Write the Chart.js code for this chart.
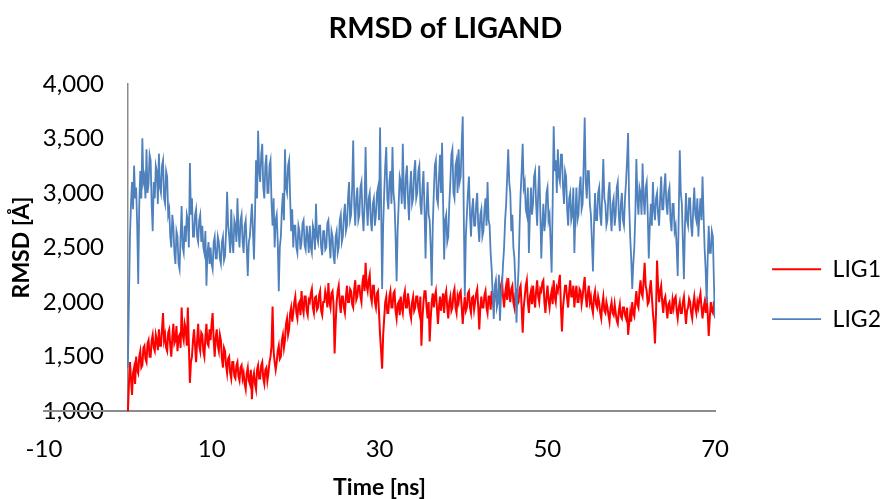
<!DOCTYPE html>
<html>
<head>
<meta charset="utf-8">
<script src="https://cdn.jsdelivr.net/npm/chart.js@4.4.1/dist/chart.umd.min.js"></script>
<style>
  html, body { margin: 0; padding: 0; background: #fff; }
  #wrap { width: 881px; height: 499px; }
</style>
</head>
<body>
<div id="wrap"><canvas id="rmsd"></canvas></div>
<script>
// RMSD per frame (8 frames per ~1 ns)
const lig1 = [
  990, 1250, 1450, 1300, 1150, 1350, 1400, 1250,  1500, 1380, 1350, 1500, 1550, 1400, 1420, 1580,
  1600, 1480, 1450, 1620, 1650, 1500, 1500, 1650,  1700, 1580, 1550, 1700, 1650, 1560, 1750, 1600,
  1600, 1750, 1900, 1650, 1700, 1580, 1550, 1720,  1750, 1600, 1500, 1680, 1800, 1620, 1650, 1780,
  1550, 1680, 1700, 1580, 1950, 1700, 1650, 1800,  1750, 1600, 1950, 1600, 1260, 1450, 1500, 1650,
  1750, 1600, 1450, 1650, 1800, 1600, 1550, 1720,  1700, 1550, 1500, 1680, 1800, 1620, 1600, 1750,
  1650, 1800, 1900, 1650, 1500, 1680, 1750, 1600,  1550, 1700, 1650, 1480, 1400, 1580, 1550, 1420,
  1350, 1480, 1500, 1350, 1300, 1450, 1450, 1320,  1300, 1420, 1450, 1320, 1280, 1400, 1420, 1300,
  1350, 1250, 1200, 1350, 1400, 1280, 1250, 1380,  1110, 1300, 1350, 1250, 1200, 1380, 1420, 1300,
  1300, 1420, 1450, 1300, 1250, 1380, 1400, 1280,  1350, 1450, 1500, 1600, 1960, 1550, 1450, 1380,
  1450, 1550, 1600, 1480, 1500, 1650, 1700, 1580,  1650, 1800, 1850, 1700, 1750, 1900, 1950, 1820,
  1900, 2000, 2050, 1900, 1850, 1980, 2000, 1880,  2100, 1950, 1900, 2050, 2050, 1920, 1880, 2020,
  2000, 2080, 2120, 1950, 1900, 2040, 2050, 1930,  1950, 2060, 2100, 1920, 1880, 2000, 2000, 2100,
  2050, 1950, 2175, 2000, 1950, 2080, 2100, 1980,  1530, 1800, 2000, 2100, 2150, 1980, 1900, 2050,
  2050, 1950, 1900, 2050, 2150, 2000, 2000, 2120,  2100, 1980, 1950, 2120, 2200, 2020, 2050, 2150,
  2150, 2050, 2000, 2180, 2250, 2100, 2360, 2150,  2100, 2200, 2250, 2050, 2000, 2150, 2150, 2000,
  1950, 2080, 2100, 1900, 1700, 1550, 1390, 1700,  1850, 2000, 2050, 1900, 1900, 2050, 2100, 1950,
  1950, 2080, 2100, 1920, 1850, 1980, 2000, 1880,  2050, 1950, 1900, 2050, 2100, 1950, 1950, 2080,
  2000, 1900, 1850, 2000, 2050, 1920, 1950, 2050,  2050, 1950, 1900, 2050, 1600, 1850, 2000, 2100,
  2100, 1950, 1850, 2000, 1640, 1850, 2000, 2080,  1950, 2050, 2100, 1950, 1800, 1950, 2050, 1920,
  2000, 2080, 1900, 2050, 2100, 1950, 1850, 2000,  2050, 1920, 1950, 2080, 2120, 1950, 1900, 2050,
  2000, 2080, 2100, 1950, 1800, 1950, 2050, 1920,  1950, 2080, 2100, 1950, 1900, 2040, 2050, 1930,
  2000, 2080, 2120, 1950, 1750, 1950, 2050, 1950,  1950, 2060, 2100, 1950, 1900, 2050, 2050, 1930,
  2100, 2000, 1950, 2100, 2150, 2000, 2000, 2130,  2050, 2150, 2200, 2050, 1950, 2080, 2150, 2020,
  2220, 2080, 2000, 2120, 2150, 2000, 1950, 2080,  2100, 1980, 2000, 2120, 2150, 1950, 1720, 1950,
  2050, 2150, 2200, 2000, 1900, 2050, 2100, 1980,  2150, 2030, 1950, 2100, 2200, 2050, 2000, 2120,
  2100, 2180, 2200, 2000, 1900, 2050, 2150, 2020,  1950, 2050, 2100, 1980, 2200, 2050, 2000, 2130,
  2100, 2180, 2250, 1950, 1730, 1950, 2050, 2150,  2150, 2030, 1950, 2100, 2200, 2050, 2050, 2150,
  1950, 2080, 2150, 2000, 2000, 2120, 2100, 1980,  2050, 2150, 2230, 2050, 1950, 2080, 2150, 2000,
  2050, 1950, 1900, 2050, 2100, 1980, 1950, 2050,  2000, 1900, 1850, 1980, 2050, 1920, 1900, 2000,
  1950, 1880, 1820, 1950, 2000, 1900, 1880, 1980,  1900, 1830, 1800, 1920, 1980, 1870, 1850, 1950,
  1950, 1880, 1850, 1950, 1700, 1800, 1900, 1820,  2000, 1900, 1870, 2000, 2100, 1980, 1950, 2100,
  2200, 2080, 2050, 2200, 2360, 2150, 2100, 1980,  2000, 2120, 2200, 2050, 1900, 1800, 1620, 1900,
  2380, 2150, 2000, 2100, 2150, 2000, 1900, 2020,  2050, 1950, 1850, 1980, 2000, 1900, 1900, 2020,
  1950, 2030, 2050, 1920, 1850, 1950, 2000, 1900,  1900, 2000, 2050, 1920, 1800, 1920, 1950, 2030,
  2000, 1900, 1850, 1980, 2050, 1950, 1900, 2000,  1950, 2030, 2080, 1950, 1850, 1950, 2000, 1900,
  2050, 1900, 1690, 1850, 2000, 1920, 1900, 2000,  2000
];

const lig2 = [
  1400, 2000, 2600, 2900, 3100, 2850, 3250, 2950,  3050, 2700, 2165, 2900, 3200, 2950, 3500, 3100,
  3150, 2950, 3400, 3000, 3080, 3350, 3300, 2900,  2650, 3100, 2950, 3250, 3200, 2900, 3360, 3050,
  3000, 3250, 3300, 2950, 2900, 3200, 3150, 2800,  2850, 2600, 2500, 2800, 2700, 2450, 2350, 2650,
  2600, 2350, 2300, 2600, 2880, 2500, 2450, 2700,  2550, 2800, 2750, 2500, 3275, 2800, 2950, 2600,
  2600, 2800, 2850, 2600, 2550, 2750, 2800, 2550,  2700, 2500, 2450, 2650, 2150, 2450, 2550, 2350,
  2500, 2350, 2300, 2550, 2600, 2400, 2400, 2600,  2550, 2400, 2350, 2550, 2600, 2380, 2420, 2650,
  3010, 2700, 2600, 2450, 2850, 2550, 2450, 2750,  2700, 2550, 2950, 2650, 2500, 2750, 2800, 2550,
  2450, 2700, 2750, 2500, 2240, 2550, 2600, 2750,  2900, 2650, 2390, 2800, 3300, 2950, 3570, 3200,
  3100, 3350, 3450, 3050, 2950, 3250, 3350, 3000,  3000, 3250, 3300, 2900, 2700, 2950, 2500, 2750,
  2800, 2550, 2100, 2500, 2600, 2850, 3000, 2750,  3400, 3050, 3000, 3250, 3300, 2950, 2650, 2850,
  2500, 2700, 2700, 2500, 2450, 2700, 2650, 2480,  2550, 2720, 2750, 2520, 2480, 2700, 2600, 2450,
  2700, 2500, 2450, 2700, 2650, 2480, 2900, 2600,  2550, 2700, 2700, 2500, 2430, 2650, 2650, 2480,
  2500, 2720, 2750, 2550, 2400, 2650, 2600, 2420,  2350, 2600, 2650, 2450, 2500, 2750, 2800, 2550,
  2600, 2800, 2900, 2650, 2700, 2950, 3100, 2750,  2800, 3050, 3480, 2900, 2700, 2950, 3050, 2750,
  2800, 3050, 3100, 2800, 2650, 2900, 3420, 2900,  2700, 2950, 3000, 2750, 2650, 2900, 2950, 2700,
  2800, 3000, 3050, 2750, 3600, 2900, 2120, 2700,  3000, 3250, 3420, 2950, 2850, 3100, 3200, 2900,
  3420, 3000, 2900, 2600, 2190, 2650, 2900, 3150,  3100, 2900, 3450, 3000, 2850, 3150, 3250, 2950,
  2750, 3050, 3200, 2900, 2950, 3200, 3300, 2950,  3000, 3200, 3250, 2900, 2800, 3050, 3200, 2850,
  2400, 2850, 3100, 2800, 2750, 2500, 2150, 2700,  3000, 3250, 3300, 2950, 2900, 3150, 3350, 3000,
  3460, 2900, 2390, 2750, 2800, 2550, 2600, 2900,  3100, 3350, 3400, 3000, 2950, 3250, 3300, 3000,
  3400, 3100, 3150, 3450, 3700, 2800, 2055, 2600,  2800, 3000, 3150, 2800, 2600, 2850, 2950, 2700,
  2700, 2900, 3000, 2700, 2550, 2800, 2850, 2600,  2650, 2850, 2950, 2700, 3100, 2750, 2700, 2450,
  2300, 2050, 1845, 2150, 2200, 1950, 2000, 2250,  1830, 2050, 2150, 2350, 2500, 2750, 2900, 3150,
  3400, 3100, 3000, 2650, 2800, 2500, 2400, 2150,  1810, 2100, 2300, 2700, 3000, 3200, 3450, 3050,
  3100, 2850, 2800, 3050, 2450, 2800, 3050, 2800,  2900, 3150, 3200, 2900, 2700, 3000, 3250, 2850,
  2400, 2700, 2900, 2650, 2750, 3000, 3050, 2750,  2800, 2550, 2270, 2900, 3610, 3200, 3300, 3000,
  3400, 3150, 3100, 3350, 3350, 3050, 2900, 3200,  3150, 2850, 2700, 2950, 3000, 2750, 2800, 3050,
  2450, 2800, 3050, 2750, 2800, 3050, 3150, 2850,  2900, 3250, 3690, 3100, 2950, 3200, 3200, 2900,
  2800, 2550, 2280, 2700, 3000, 2750, 2750, 3000,  3050, 2800, 2700, 3000, 3310, 2950, 2900, 2700,
  2750, 3000, 3100, 2800, 2650, 2900, 2950, 2700,  2800, 3050, 3100, 2800, 2650, 2900, 3000, 2750,
  2700, 2950, 3100, 3300, 3550, 2900, 2600, 2400,  2120, 2350, 2500, 2800, 3310, 2950, 2800, 3050,
  3000, 2800, 3270, 2950, 2800, 3050, 3100, 2800,  2400, 2700, 2900, 2700, 3100, 2850, 2750, 2950,
  3000, 2800, 2700, 2950, 3150, 2850, 2850, 3050,  3180, 2900, 2800, 3000, 3050, 2750, 2650, 2900,
  2900, 2650, 2700, 2500, 2240, 2800, 3390, 3000,  2900, 2550, 2210, 2700, 3000, 2750, 2700, 2950,
  2950, 2700, 2600, 2850, 3050, 2800, 2750, 2950,  2600, 2800, 2950, 2750, 3150, 2800, 2500, 2300,
  1990, 2400, 2700, 2450, 2450, 2650, 2600, 2200,  1850
];

const frameStep = 0.1232; // ns between frames
const xTicks = [-10, 10, 30, 50, 70];
const yTicks = [1000, 1500, 2000, 2500, 3000, 3500, 4000];

Chart.defaults.font.family = 'Lato';
Chart.defaults.color = '#000';

const toPoints = (arr) => arr.map((v, i) => ({ x: i * frameStep, y: v }));
const setTicks = (list) => (scale) => {
    scale.ticks = list.map((v) => ({ value: v }));
};

const axisGray = '#8c8c8c';

const ctx = document.getElementById("rmsd").getContext("2d");
const rmsdChart = new Chart(ctx, {
    type: "line",
    data: {
        datasets: [
            {
                label: 'LIG1',
                data: toPoints(lig1),
                borderColor: '#ff0000',
                backgroundColor: '#ff0000',
                borderWidth: 2,
                order: 1,
                yAxisID: 'y',
            },
            {
                label: 'LIG2',
                data: toPoints(lig2),
                borderColor: '#4f81bd',
                backgroundColor: '#4f81bd',
                borderWidth: 1.8,
                order: 0,
                yAxisID: 'y',
            },
        ],
    },
    options: {
        responsive: true,
        maintainAspectRatio: false,
        animation: false,
        layout: {
            padding: { left: 0, right: -10, top: 0, bottom: 0 },
        },
        elements: {
            point: { radius: 0 },
            line: { tension: 0 },
        },
        plugins: {
            title: {
                display: true,
                text: 'RMSD of LIGAND',
                font: { size: 29, weight: 'bold' },
                color: '#000',
                padding: { top: 11, bottom: 38 },
            },
            legend: {
                position: 'right',
                maxWidth: 200,
                title: {
                    display: true,
                    text: '',
                    padding: { top: 75, bottom: 0 },
                },
                labels: {
                    usePointStyle: true,
                    pointStyle: 'line',
                    pointStyleWidth: 49,
                    padding: 27,
                    font: { size: 23 },
                    color: '#000',
                    sort: (a, b) => a.datasetIndex - b.datasetIndex,
                },
            },
            tooltip: { enabled: false },
        },
        scales: {
            // value axis, drawn where time = 0
            y: {
                axis: 'y',
                type: 'linear',
                position: { x: 0 },
                min: 1000,
                max: 4000,
                afterBuildTicks: setTicks(yTicks),
                ticks: { display: false },
                grid: { display: false, drawTicks: false },
                border: { display: true, color: axisGray, width: 1.5 },
            },
            // same range, only carries the tick labels a bit left of the axis line
            yLabels: {
                axis: 'y',
                type: 'linear',
                position: { x: -2.85 },
                min: 1000,
                max: 4000,
                afterBuildTicks: setTicks(yTicks),
                ticks: {
                    font: { size: 24 },
                    color: '#000',
                    callback: (v) => Number(v).toLocaleString('en-US'),
                },
                grid: { display: false, drawTicks: false },
                border: { display: false },
            },
            x: {
                type: 'linear',
                position: 'bottom',
                min: -10,
                max: 70,
                afterBuildTicks: setTicks(xTicks),
                ticks: {
                    padding: 23.5,
                    font: { size: 24 },
                    color: '#000',
                    maxRotation: 0,
                },
                grid: { display: false, drawTicks: false },
                border: { display: true, color: axisGray, width: 2 },
                title: {
                    display: true,
                    text: 'Time [ns]',
                    font: { size: 23, weight: 'bold', lineHeight: 1 },
                    color: '#000',
                    padding: { top: -11, bottom: 0 },
                },
            },
            // left axis only carries the y title
            yTitle: {
                axis: 'y',
                type: 'linear',
                position: 'left',
                ticks: { display: false },
                grid: { display: false, drawTicks: false },
                border: { display: false },
                title: {
                    display: true,
                    text: 'RMSD [Å]',
                    font: { size: 23, weight: 'bold', lineHeight: 1 },
                    color: '#000',
                    padding: { top: 10, bottom: 11 },
                },
            },
            // empty gap between plot and legend
            yGap: {
                axis: 'y',
                type: 'linear',
                position: 'right',
                ticks: { display: false },
                grid: { display: false, drawTicks: false },
                border: { display: false },
                afterFit: (scale) => {
                    scale.width = 30;
                },
            },
        },
    }
});
</script>
</body>
</html>
